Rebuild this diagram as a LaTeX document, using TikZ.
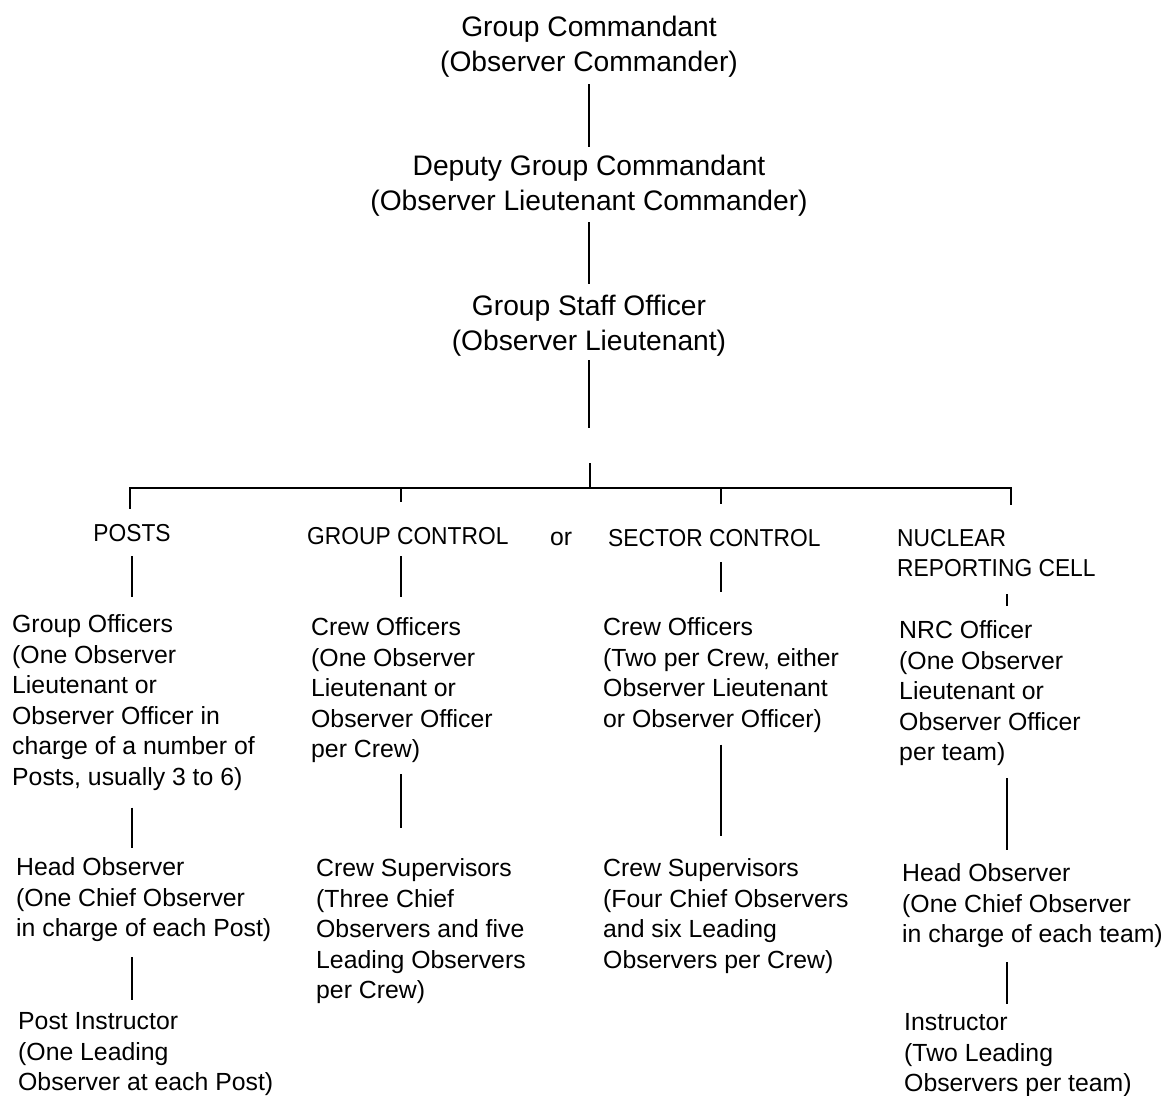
\documentclass[tikz,border=0pt]{standalone}
\usepackage{fontspec}
\setmainfont{Liberation Sans}
\newfontfamily\hdrfont[FakeStretch=0.93]{Liberation Sans}
\begin{document}
\begin{tikzpicture}[x=1pt,y=-1pt,
  topbox/.style={font=\fontsize{28.2}{35}\selectfont, align=center, inner sep=0pt, anchor=north},
  body/.style={font=\fontsize{24.8}{30.5}\selectfont, align=left, inner sep=0pt, anchor=north west},
  hdr/.style={font=\hdrfont\fontsize{24.5}{30.5}\selectfont, align=left, inner sep=0pt},
  conn/.style={line width=2.2pt}]
\useasboundingbox[fill=white] (0,0) rectangle (1161,1095);

% top chain
\node[topbox] (gc)  at (589,15.4)  {Group Commandant\\(Observer Commander)};
\node[topbox] (dgc) at (589,154.4) {Deputy Group Commandant\\(Observer Lieutenant Commander)};
\node[topbox] (gso) at (589,294.4) {Group Staff Officer\\(Observer Lieutenant)};
\draw[conn, shorten <=7pt, shorten >=7.5pt] (gc.south) -- (dgc.north);
\draw[conn, shorten <=6pt, shorten >=10pt] (dgc.south) -- (gso.north);
\coordinate (gapT) at (589,428);
\coordinate (gapB) at (590,463);
\coordinate (jn)   at (590,488);
\draw[conn, shorten <=4pt] (gso.south) -- (gapT);
\draw[conn] (gapB) -- (jn);

% bar positions
\coordinate (tP) at (130,488);
\coordinate (tG) at (401,488);
\coordinate (tS) at (721,488);
\coordinate (tN) at (1011,488);
\coordinate (nrcx) at (1007,600);

% headers
\node[hdr, anchor=base] (posts) at (132,541) {POSTS};
\node[hdr, anchor=base west] (gctl) at (307,544) {GROUP CONTROL};
\node[body, anchor=base west] (orw) at (550,545) {or};
\node[hdr, anchor=base west] (sctl) at (608,546) {SECTOR CONTROL};
\node[hdr, anchor=north west] (nrc) at (897,529) {NUCLEAR\\REPORTING CELL};

\draw[conn, shorten <=15pt, shorten >=24pt] (tP |- posts.north) -- (tP) -- (tN) -- (tN |- nrc.north);
\draw[conn, shorten >=25pt] (tG) -- (tG |- gctl.north);
\draw[conn, shorten >=25pt] (tS) -- (tS |- sctl.north);

% column 1: posts
\node[body] (go) at (12,614.4) {Group Officers\\(One Observer\\Lieutenant or\\Observer Officer in\\charge of a number of\\Posts, usually 3 to 6)};
\node[body] (ho1) at (16,857.4) {Head Observer\\(One Chief Observer\\in charge of each Post)};
\node[body] (pi) at (18,1012.4) {Post Instructor\\(One Leading\\Observer at each Post)};
\draw[conn, shorten <=15pt, shorten >=17.4pt] (posts.south) -- (posts.south |- go.north);
\draw[conn, shorten <=17.3pt, shorten >=9.4pt] (go.south -| posts) -- (ho1.north -| posts);
\draw[conn, shorten <=15.3pt, shorten >=12.4pt] (ho1.south -| posts) -- (pi.north -| posts);

% column 2: group control
\node[body] (co1) at (311,617.4) {Crew Officers\\(One Observer\\Lieutenant or\\Observer Officer\\per Crew)};
\node[body] (cs1) at (316,858.4) {Crew Supervisors\\(Three Chief\\Observers and five\\Leading Observers\\per Crew)};
\draw[conn, shorten <=12pt, shorten >=20.4pt] (gctl.south -| tG) -- (co1.north -| tG);
\draw[conn, shorten <=11.3pt, shorten >=30.4pt] (co1.south -| tG) -- (cs1.north -| tG);

% column 3: sector control
\node[body] (co2) at (603,617.4) {Crew Officers\\(Two per Crew, either\\Observer Lieutenant\\or Observer Officer)};
\node[body] (cs2) at (603,858.4) {Crew Supervisors\\(Four Chief Observers\\and six Leading\\Observers per Crew)};
\draw[conn, shorten <=16pt, shorten >=25.4pt] (sctl.south -| tS) -- (co2.north -| tS);
\draw[conn, shorten <=12.3pt, shorten >=22.4pt] (co2.south -| tS) -- (cs2.north -| tS);

% column 4: nuclear reporting cell
\node[body] (nrco) at (899,620.4) {NRC Officer\\(One Observer\\Lieutenant or\\Observer Officer\\per team)};
\node[body] (ho2) at (902,863.4) {Head Observer\\(One Chief Observer\\in charge of each team)};
\node[body] (ins) at (904,1013.4) {Instructor\\(Two Leading\\Observers per team)};
\draw[conn, shorten <=17pt, shorten >=14.4pt] (nrc.south -| nrcx) -- (nrco.north -| nrcx);
\draw[conn, shorten <=12.3pt, shorten >=13.4pt] (nrco.south -| nrcx) -- (ho2.north -| nrcx);
\draw[conn, shorten <=14.3pt, shorten >=9.4pt] (ho2.south -| nrcx) -- (ins.north -| nrcx);
\end{tikzpicture}
\end{document}
